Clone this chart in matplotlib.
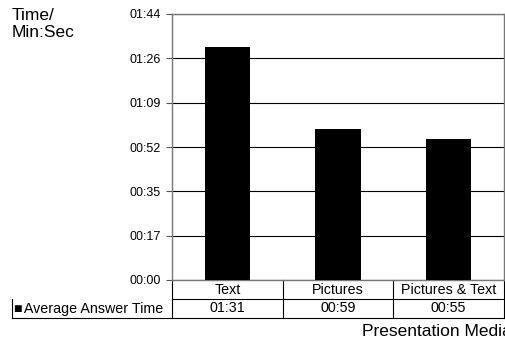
import matplotlib
matplotlib.use("Agg")
import matplotlib.pyplot as plt
import matplotlib.transforms as mtransforms

categories = ["Text", "Pictures", "Pictures & Text"]
seconds = [91, 59, 55]
value_labels = ["01:31", "00:59", "00:55"]
series_name = "Average Answer Time"
tick_secs = [0, 17.33, 34.67, 52, 69.33, 86.67, 104]
tick_labels = ["00:00", "00:17", "00:35", "00:52", "01:09", "01:26", "01:44"]

plt.rcParams['font.family'] = ['Liberation Sans', 'DejaVu Sans']

fig = plt.figure(figsize=(5.06, 3.42), dpi=100)
ax = fig.add_axes([172/506, 62/342, 332/506, 266/342])

x = list(range(len(categories)))
ax.bar(x, seconds, width=0.41, color='black', zorder=3)
ax.set_xlim(-0.5, len(categories) - 0.5)
ax.set_ylim(0, 104)
ax.set_yticks(tick_secs)
ax.set_yticklabels(tick_labels, fontsize=9)
ax.set_xticks([])
ax.grid(axis='y', color='black', linewidth=0.8, zorder=1)
ax.tick_params(axis='y', length=4, width=0.8, color='#555555', pad=4)
for sp in ax.spines.values():
    sp.set_color('#777777')
    sp.set_linewidth(1.0)

# data table under the plot
tr = mtransforms.blended_transform_factory(ax.transData, ax.transAxes)
row1_top = 0.0
row1_bot = -19/266
row2_bot = -38/266
left_x = -0.5 - (172 - 11.5) / (332 / 3)
lkw = dict(color='black', linewidth=0.8, clip_on=False, transform=tr)
ax.plot([-0.5, 2.5], [row1_bot, row1_bot], **lkw)
ax.plot([left_x, 2.5], [row2_bot, row2_bot], **lkw)
ax.plot([left_x, left_x], [row1_bot, row2_bot], **lkw)
for b in [-0.5, 0.5, 1.5, 2.5]:
    ax.plot([b, b], [row1_top, row2_bot], **lkw)
for i, c in enumerate(categories):
    ax.text(i, (row1_top + row1_bot) / 2, c, ha='center', va='center',
            fontsize=10.3, transform=tr)
    ax.text(i, (row1_bot + row2_bot) / 2, value_labels[i], ha='center',
            va='center', fontsize=10.3, transform=tr)
ax.text(left_x + 0.02, (row1_bot + row2_bot) / 2, "\u25a0\u200a" + series_name,
        ha='left', va='center', fontsize=10.3, transform=tr)

fig.text(12/506, 1 - 8/342, "Time/\nMin:Sec", ha='left', va='top',
         fontsize=12.5, linespacing=1.2)
fig.text(362/506, 1 - 331/342, "Presentation Media", ha='left', va='center',
         fontsize=12.5)

fig.savefig("out.png", dpi=100)
